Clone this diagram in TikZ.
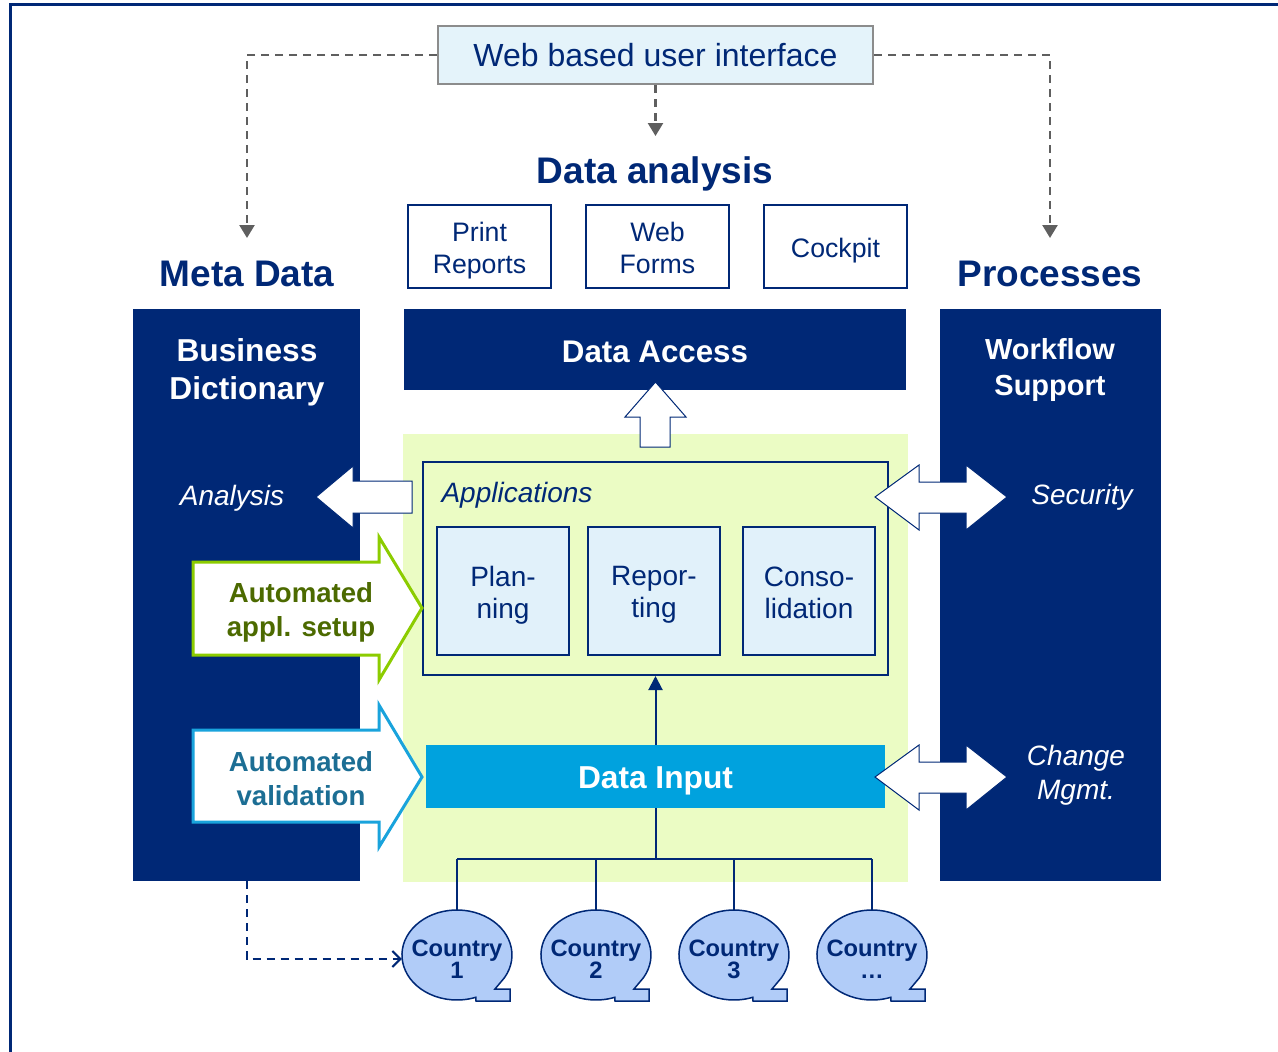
\documentclass[tikz,border=0pt]{standalone}
\usepackage{fontspec}
\setmainfont{Liberation Sans}
\usetikzlibrary{arrows.meta,positioning}

\definecolor{navy}{RGB}{0,40,118}
\definecolor{uifill}{RGB}{228,243,250}
\definecolor{uiline}{RGB}{140,140,140}
\definecolor{dashgray}{RGB}{95,95,95}
\definecolor{appzone}{RGB}{235,252,196}
\definecolor{appfill}{RGB}{225,241,250}
\definecolor{inputblue}{RGB}{0,162,222}
\definecolor{bubblefill}{RGB}{177,204,248}
\definecolor{setupgreen}{RGB}{140,204,0}
\definecolor{setuptext}{RGB}{76,106,0}
\definecolor{checkcyan}{RGB}{25,163,220}
\definecolor{checktext}{RGB}{28,110,148}
\newcommand{\dfont}[2]{\fontsize{#1}{#2}\selectfont}

\begin{document}
\begin{tikzpicture}[x=1pt, y=-1pt,
  title/.style={text=navy, font=\bfseries\dfont{37}{44}},
  outbox/.style={draw=navy, line width=2pt, fill=white, minimum width=143pt,
    minimum height=83pt, inner sep=0pt},
  boxtext/.style={text=navy, align=center, inner sep=0pt, font=\dfont{#1}{32}},
  column/.style={fill=navy, minimum width=#1, minimum height=572pt, inner sep=0pt},
  coltitle/.style={text=white, align=center, font=\bfseries\dfont{31.7}{38}},
  colitem/.style={text=white, align=center, font=\itshape\dfont{28}{34}},
  appbox/.style={draw=navy, line width=2pt, fill=appfill, minimum width=132pt,
    minimum height=128pt, inner sep=0pt},
  whitetext/.style={text=white, inner sep=0pt, font=\bfseries\dfont{#1}{38}},
  country/.style={text=navy, align=center, minimum width=110pt, minimum height=98pt,
    inner sep=0pt, font=\bfseries\dfont{23.7}{22}},
  bubble/.style={draw=navy, line width=1.5pt, fill=bubblefill},
  blockarrow/.style={draw=navy, line width=1pt, fill=white},
  fatarrow/.style={line width=3pt, fill=white, draw=#1},
  uilink/.style={draw=dashgray, line width=2.5pt, dash pattern=on 8pt off 6pt,
    -{Triangle[length=13pt,width=15pt]}},
  busline/.style={draw=navy, line width=2pt}]

\useasboundingbox (0,0) rectangle (1278,1052);
\draw[navy, line width=3pt] (10,1052) -- (10,4) -- (1278,4);

\node[draw=uiline, line width=2pt, fill=uifill, minimum width=435pt, minimum height=58pt,
  text=navy, font=\dfont{32}{38}] (webui) at (655.5,55) {Web based user interface};

\node[title] (datatitle) at (655,174) {Data analysis};
\node[title] (metatitle) at (247,274) {Meta Data};
\node[title] (proctitle) at (1050,274) {Processes};

\node[outbox] (print) at (479.5,246.5) {};
\node[outbox, right=33pt of print] (webforms) {};
\node[outbox, right=33pt of webforms] (cockpit) {};
\node[boxtext=26.7] (printtext) at (479.5,250.5) {Print\\Reports};
\node[boxtext=26.7] (formstext) at (657.5,247.5) {Web\\Forms};
\node[boxtext=26.7] (cockpittext) at (835.5,250.5) {Cockpit};

\node[column=227pt] (meta) at (246.5,595) {};
\node[column=221pt] (proc) at (1050.5,595) {};
\node[fill=navy, minimum width=502pt, minimum height=81pt] (access) at (655,349.5) {};
\node[whitetext=31.3] (accesstext) at (655,351.5) {Data Access};
\node[fill=appzone, minimum width=505pt, minimum height=448pt] (zone) at (655.5,658) {};

\node[coltitle] (bizdict) at (247,372) {Business\\Dictionary};
\node[coltitle, font=\bfseries\dfont{29}{36}] (workflow) at (1050,369.5) {Workflow\\Support};
\node[colitem] (analysis) at (232,498) {Analysis};
\node[colitem] (security) at (1082,497) {Security};
\node[colitem] (change) at (1076,775) {Change\\Mgmt.};

\node[draw=navy, line width=2pt, minimum width=465pt, minimum height=213pt] (apps) at (655.5,568.5) {};
\node[colitem, text=navy, anchor=west] (appslabel) at (438,495) {Applications};
\node[appbox] (plan) at (503,591) {};
\node[appbox, right=17pt of plan] (report) {};
\node[appbox, right=21pt of report] (conso) {};
\node[boxtext=28] (plantext) at (503,595) {Plan-\\ning};
\node[boxtext=28] (reporttext) at (654,595) {Repor-\\ting};
\node[boxtext=28] (consotext) at (809,593) {Conso-\\lidation};

\node[fill=inputblue, minimum width=459pt, minimum height=63pt] (input) at (655.5,776.5) {};
\node[whitetext=31.7] (inputtext) at (655.5,781) {Data Input};

\draw[blockarrow] (640,447) -- (640,417) -- (625,417) -- (655.5,382) -- (686,417)
  -- (670,417) -- (670,447) -- cycle;
\draw[blockarrow] (412,481) -- (353,481) -- (353,466) -- (316,497) -- (353,528)
  -- (353,513) -- (412,513) -- cycle;
\foreach \y in {497,777}
  \draw[blockarrow] (875,\y) -- (919,\y-32) -- (919,\y-15) -- (966,\y-15) -- (966,\y-32)
    -- (1007,\y) -- (966,\y+33) -- (966,\y+16) -- (919,\y+16) -- (919,\y+33) -- cycle;

\draw[fatarrow=setupgreen] (193,562) -- (379,562) -- (379,537) -- (422,608) -- (379,680)
  -- (379,655) -- (193,655) -- cycle;
\node[text=setuptext, align=center, font=\bfseries\dfont{27.6}{34}] (setup) at (301,612)
  {Automated\\appl. setup};
\draw[fatarrow=checkcyan] (193,730) -- (379,730) -- (379,705) -- (422,777) -- (379,847)
  -- (379,822) -- (193,822) -- cycle;
\node[text=checktext, align=center, font=\bfseries\dfont{27.6}{34}] (check) at (301,779)
  {Automated\\validation};

\foreach \n/\x/\lab in {1/457/1, 2/596/2, 3/734/3, 4/872/\dots} {
  \draw[bubble] (\x+47.6,977.5) arc[start angle=-30, end angle=290, x radius=55pt, y radius=45pt]
    -- (\x+19,1001) -- (\x+53,1001) -- (\x+53,989) -- (\x+38,989) -- cycle;
  \node[country] (c\n) at (\x,959) {Country\\\lab};
}

\coordinate (metain) at (247,238);
\coordinate (procin) at (1050,238);
\coordinate (datain) at (655.5,136);
\coordinate (bus) at (655.5,859);
\draw[uilink] (webui.west) -| (metain);
\draw[uilink] (webui.east) -| (procin);
\draw[uilink] (webui.south) -- (datain);
\draw[navy, line width=2pt, -{Triangle[length=14pt,width=14pt]}] (input.north) -- (apps.south);
\draw[busline] (input.south) -- (bus);
\draw[busline] (c1.north |- bus) -- (c4.north |- bus);
\foreach \n in {1,...,4}
  \draw[busline] (c\n.north |- bus) -- (c\n.north);
\draw[navy, line width=2pt, dash pattern=on 8pt off 6pt, -{Straight Barb[length=8pt,width=16pt]}]
  (meta.south) |- (c1.west);
\end{tikzpicture}
\end{document}
